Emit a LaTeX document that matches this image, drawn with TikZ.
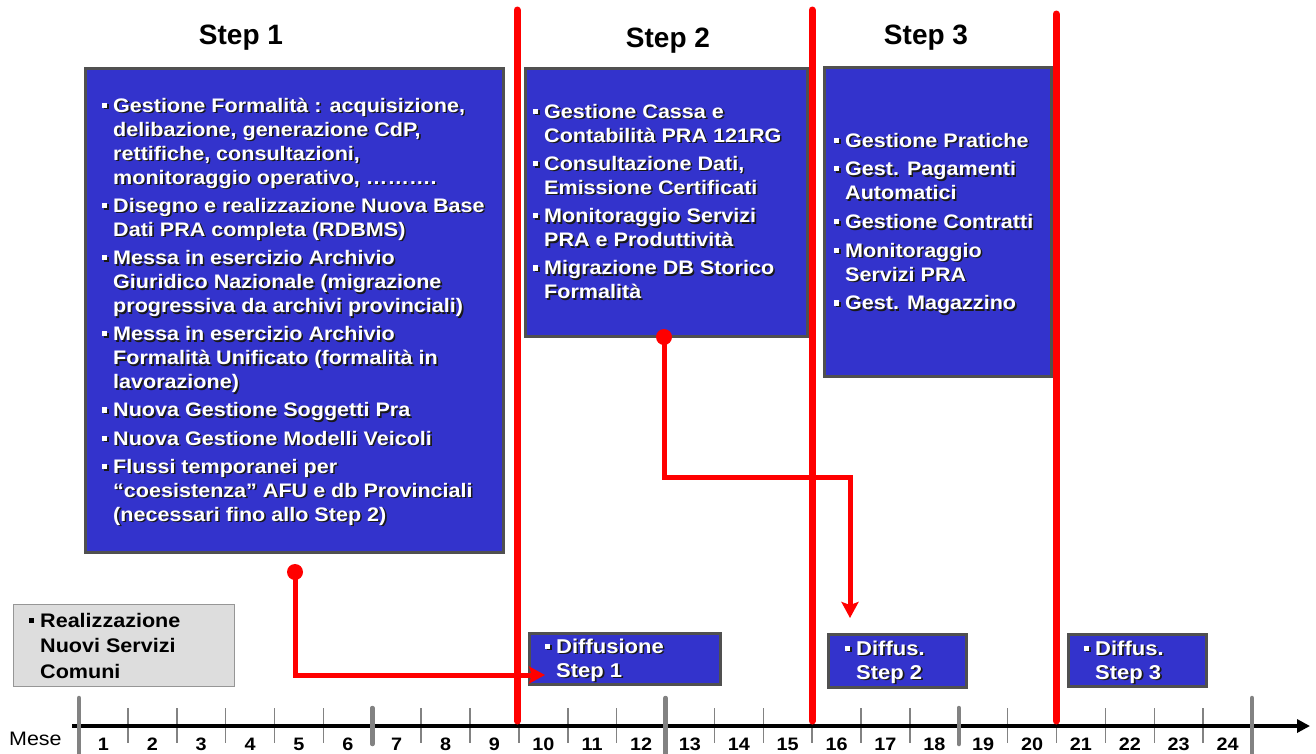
\documentclass[tikz,border=0pt]{standalone}
\usepackage{fontspec}
\setmainfont{Liberation Sans}
\newfontfamily\bxf[FakeStretch=1.1]{Liberation Sans}
\usetikzlibrary{arrows.meta}
\definecolor{boxblue}{RGB}{51,51,204}
\definecolor{boxedge}{RGB}{80,80,80}
\definecolor{redl}{RGB}{255,0,0}
\definecolor{tickgray}{RGB}{130,130,130}
\definecolor{lightbox}{RGB}{221,221,221}
\definecolor{lightedge}{RGB}{150,150,150}
\newcommand\bul{\makebox[11pt][l]{\rule[4.3pt]{5.2pt}{5.2pt}}}
\newcommand\ind{\hspace*{11pt}}
\newcommand\shnode[4]{%
  \node[txt,#3,text=black!90,xshift=1.6pt,yshift=-1.6pt] (#1s) at #2 {\parbox[t]{440pt}{#4}};
  \node[txt,#3,text=white] (#1) at #2 {\parbox[t]{440pt}{#4}};}
\begin{document}
\begin{tikzpicture}[x=1pt,y=-1pt,
  bluebox/.style={fill=boxblue,draw=boxedge,line width=2.5pt,anchor=north west,inner sep=0pt},
  greybox/.style={fill=lightbox,draw=lightedge,line width=1.5pt,anchor=north west,inner sep=0pt},
  txt/.style={anchor=base west,inner sep=0pt,font=\bxf\bfseries\fontsize{19.6}{24}\selectfont},
  dtxt/.style={font=\bxf\bfseries\fontsize{20}{24}\selectfont},
  title/.style={anchor=base,inner sep=0pt,font=\bfseries\fontsize{28}{30}\selectfont},
  mnum/.style={anchor=base,inner sep=0pt,font=\bxf\bfseries\fontsize{18}{18}\selectfont},
  phase/.style={draw=redl,line width=7pt,line cap=round},
  conn/.style={draw=redl,line width=5pt},
  tipped/.style={-{Stealth[length=16pt,width=17pt,inset=3pt]}},
  minortick/.style={draw=tickgray,line width=1.5pt},
  majortick/.style={draw=tickgray,line width=4.5pt,line cap=round},
  axis/.style={draw=black,line width=3.5pt,-{Triangle[length=13pt,width=13pt]}}]
\useasboundingbox (0,0) rectangle (1316,753);
\fill[white] (0,0) rectangle (1316,753);

% titles
\node[title] (s1) at (241,44) {Step 1};
\node[title] (s2) at (668,47) {Step 2};
\node[title] (s3) at (926,44) {Step 3};

% boxes
\node[bluebox,minimum width=418pt,minimum height=484pt] (box1) at (84,67) {};
\node[bluebox,minimum width=282pt,minimum height=268pt] (box2) at (524,67) {};
\node[bluebox,minimum width=227pt,minimum height=309pt] (box3) at (823,66) {};
\node[greybox,minimum width=221pt,minimum height=82pt] (boxc) at (12.5,603.5) {};
\node[bluebox,minimum width=191pt,minimum height=51pt] (diff1) at (528,632) {};
\node[bluebox,minimum width=138pt,minimum height=53pt] (diff2) at (827,633) {};
\node[bluebox,minimum width=138pt,minimum height=52pt] (diff3) at (1067,633) {};

% texts
\shnode{t1}{(102,112)}{}{%
\bul Gestione Formalità : acquisizione,\\
\ind delibazione, generazione CdP,\\
\ind rettifiche, consultazioni,\\
\ind monitoraggio operativo, ……….\\[4.2pt]
\bul Disegno e realizzazione Nuova Base\\
\ind Dati PRA completa (RDBMS)\\[4.2pt]
\bul Messa in esercizio Archivio\\
\ind Giuridico Nazionale (migrazione\\
\ind progressiva da archivi provinciali)\\[4.2pt]
\bul Messa in esercizio Archivio\\
\ind Formalità Unificato (formalità in\\
\ind lavorazione)\\[4.2pt]
\bul Nuova Gestione Soggetti Pra\\[4.2pt]
\bul Nuova Gestione Modelli Veicoli\\[4.2pt]
\bul Flussi temporanei per\\
\ind “coesistenza” AFU e db Provinciali\\
\ind (necessari fino allo Step 2)}

\shnode{t2}{(533,118)}{}{%
\bul Gestione Cassa e\\
\ind Contabilità PRA 121RG\\[4.3pt]
\bul Consultazione Dati,\\
\ind Emissione Certificati\\[4.3pt]
\bul Monitoraggio Servizi\\
\ind PRA e Produttività\\[4.3pt]
\bul Migrazione DB Storico\\
\ind Formalità}

\shnode{t3}{(834,147)}{}{%
\bul Gestione Pratiche\\[4.7pt]
\bul Gest. Pagamenti\\
\ind Automatici\\[4.7pt]
\bul Gestione Contratti\\[4.7pt]
\bul Monitoraggio\\
\ind Servizi PRA\\[4.7pt]
\bul Gest. Magazzino}

\node[txt,text=black,font=\bxf\bfseries\fontsize{19.6}{25.5}\selectfont] (tc) at (29,627)
  {\parbox[t]{220pt}{\bul Realizzazione\\ \ind Nuovi Servizi\\ \ind Comuni}};

\shnode{td1}{(545,653)}{dtxt}{\bul Diffusione\\ \ind Step 1}
\shnode{td2}{(845,655)}{dtxt}{\bul Diffus.\\ \ind Step 2}
\shnode{td3}{(1084,655)}{dtxt}{\bul Diffus.\\ \ind Step 3}

% timeline
\coordinate (ax0) at (72,726);
\coordinate (ax1) at (1310,726);
\foreach \k in {1,...,23} \draw[minortick] ({79+48.875*\k},708) -- ({79+48.875*\k},743);
\draw[axis] (ax0) -- (ax1);
\foreach \k in {0,12,24} \draw[majortick] ({79+48.875*\k},698) -- ({79+48.875*\k},760);
\foreach \k in {6,18} \draw[majortick] ({79+48.875*\k},708) -- ({79+48.875*\k},744);
\foreach \k in {1,...,24} \node[mnum] (m\k) at ({79+48.875*(\k-0.5)},750) {\k};
\node[anchor=base west,inner sep=0pt,font=\bxf\fontsize{19.5}{20}\selectfont] (mese) at (9,745) {Mese};

% phase lines
\coordinate (p1t) at (517,10);  \coordinate (p1b) at (517,721);
\coordinate (p2t) at (812,10);  \coordinate (p2b) at (812,721);
\coordinate (p3t) at (1056,14); \coordinate (p3b) at (1056,721);
\draw[phase] (p1t) -- (p1b);
\draw[phase] (p2t) -- (p2b);
\draw[phase] (p3t) -- (p3b);

% connectors
\coordinate (d1) at (295,572);
\coordinate (e1) at (545,675);
\draw[conn,tipped] (d1) |- (e1);
\fill[redl] (d1) circle[radius=8pt];

\coordinate (d2) at (664,337);
\coordinate (k2) at (850,477);
\coordinate (e2) at (850,618);
\draw[conn,tipped] (d2) |- (k2) -- (e2);
\fill[redl] (d2) circle[radius=8pt];
\end{tikzpicture}
\end{document}
